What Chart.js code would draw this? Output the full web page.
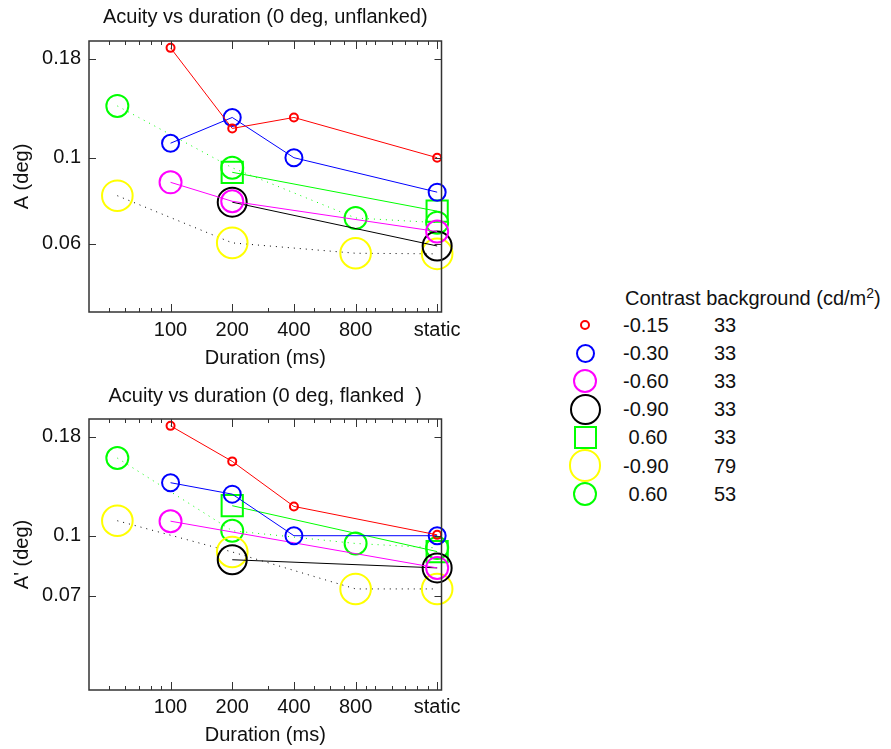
<!DOCTYPE html>
<html>
<head>
<meta charset="utf-8">
<script src="https://cdn.jsdelivr.net/npm/chart.js@4.4.1/dist/chart.umd.min.js"></script>
<style>
  body { margin: 0; background: #fff; font-family: "Liberation Sans", Arial, sans-serif; color: #111; }
  #wrap { position: relative; width: 891px; height: 749px; }
  #topChart { position: absolute; left: 0; top: 0; }
  #botChart { position: absolute; left: 0; top: 370px; }
  #legend { position: absolute; left: 0; top: 0; font-size: 20px; }
  .lg-title { position: absolute; left: 625px; top: 284px; line-height: 28px; white-space: nowrap; }
  .lg-title sup { font-size: 14px; vertical-align: 7px; line-height: 0; }
  .lg-text { position: absolute; line-height: 28px; height: 28px; white-space: pre; }
  .lg-mark { position: absolute; box-sizing: border-box; border-style: solid; border-width: 2px; }
</style>
</head>
<body>
<div id="wrap">
  <canvas id="topChart" width="460" height="370"></canvas>
  <canvas id="botChart" width="460" height="379"></canvas>
  <div id="legend"></div>
</div>
<script>
// durations in ms; 2000 stands for "static"
const durations = [55, 100, 200, 400, 800, 2000];
const xTickValues = [50, 60, 70, 80, 90, 100, 200, 300, 400, 500, 600, 700, 800, 900, 1000, 1200, 1400, 1600, 1800, 2000];
const xMajor = [100, 200, 400, 800, 2000];
const xTickLabels = { 100: '100', 200: '200', 400: '400', 800: '800', 2000: 'static' };

// legend entries: contrast and background (cd/m2)
const contrasts = ['-0.15', '-0.30', '-0.60', '-0.90', ' 0.60', '-0.90', ' 0.60'];
const backgrounds = ['33', '33', '33', '33', '33', '79', '53'];

// unflanked acuity A (deg), one array per series, aligned with durations
const topRed     = [null, 0.192, 0.119, 0.127, null, 0.100];
const topBlue    = [null, 0.109, 0.127, 0.100, null, 0.0815];
const topMagenta = [null, 0.0864, 0.0772, null, null, 0.0645];
const topBlack   = [null, null, 0.0768, null, null, 0.0592];
const topGreenSq = [null, null, 0.0917, null, null, 0.0728];
const topYellow  = [0.0798, null, 0.0603, null, 0.0567, 0.0565];
const topGreenCi = [0.136, null, 0.0942, null, 0.0699, 0.0680];

// flanked acuity A' (deg)
const botRed     = [null, 0.192, 0.1555, 0.119, null, 0.1005];
const botBlue    = [null, 0.137, 0.128, 0.100, null, 0.100];
const botMagenta = [null, 0.109, null, null, null, 0.0826];
const botBlack   = [null, null, 0.0867, null, null, 0.0826];
const botGreenSq = [null, null, 0.1195, null, null, 0.091];
const botYellow  = [0.1093, null, 0.0908, null, 0.0729, 0.0729];
const botGreenCi = [0.1586, null, 0.103, null, 0.0955, 0.093];

const topTicksY = [0.06, 0.1, 0.18];
const botTicksY = [0.07, 0.1, 0.18];

// styles per series
const markColors = ['#ff0000', '#0000ff', '#ff00ff', '#000000', '#00ff00', '#ffff00', '#00ff00'];
const lineColors = ['#ff0000', '#0000ff', '#ff00ff', '#000000', '#00ff00', '#000000', '#00ff00'];
const lineDashes = [[], [], [], [], [], [1, 5], [1, 5]];
const markShapes = ['circle', 'circle', 'circle', 'circle', 'rect', 'circle', 'circle'];
const markRadius = [4, 8.5, 11, 14.5, 15, 15.3, 11];

const FONT = { family: '"Liberation Sans", Arial, sans-serif', size: 20, weight: 'normal' };
Chart.defaults.font.family = FONT.family;
Chart.defaults.color = '#111';

function buildSets(seriesList) {
  return seriesList.map((vals, i) => ({
    label: contrasts[i] + ' ' + backgrounds[i],
    data: durations.map((d, j) => ({ x: d, y: vals[j] })).filter(p => p.y !== null),
    borderColor: lineColors[i],
    borderWidth: 1,
    borderDash: lineDashes[i],
    pointStyle: markShapes[i],
    pointRadius: markRadius[i],
    pointHoverRadius: markRadius[i],
    pointBorderColor: markColors[i],
    pointBorderWidth: 2,
    pointBackgroundColor: 'rgba(0,0,0,0)',
    tension: 0,
    fill: false,
    clip: false
  }));
}

// inward ticks + box, like the original plot frame
const frameTicks = {
  id: 'frameTicks',
  afterDatasetsDraw(chart) {
    const { ctx, chartArea: a, scales: { x, y } } = chart;
    ctx.save();
    ctx.strokeStyle = '#333';
    ctx.lineWidth = 1;
    ctx.setLineDash([]);
    ctx.beginPath();
    x.ticks.forEach(t => {
      const px = Math.round(x.getPixelForValue(t.value)) + 0.5;
      const len = xMajor.includes(t.value) ? 8 : 4;
      ctx.moveTo(px, a.bottom); ctx.lineTo(px, a.bottom - len);
      ctx.moveTo(px, a.top); ctx.lineTo(px, a.top + len);
    });
    y.ticks.forEach(t => {
      const py = Math.round(y.getPixelForValue(t.value)) + 0.5;
      ctx.moveTo(a.left, py); ctx.lineTo(a.left + 7, py);
      ctx.moveTo(a.right, py); ctx.lineTo(a.right - 7, py);
    });
    ctx.stroke();
    ctx.lineWidth = 1.5;
    ctx.strokeRect(a.left, a.top, a.right - a.left, a.bottom - a.top);
    ctx.restore();
  }
};

function makeChart(id, title, titlePad, yTitle, yTicks, seriesList, xHeight, xLabelPad, xTitlePad) {
  return new Chart(document.getElementById(id), {
    type: 'line',
    data: { datasets: buildSets(seriesList) },
    plugins: [frameTicks],
    options: {
      responsive: false,
      animation: false,
      events: [],
      layout: { padding: { left: 0, right: 18.5, top: 0, bottom: 0 } },
      plugins: {
        legend: { display: false },
        tooltip: { enabled: false },
        title: { display: true, text: title, fullSize: false, font: FONT, color: '#111', padding: titlePad }
      },
      scales: {
        x: {
          type: 'logarithmic',
          min: 40,
          max: 2100,
          grid: { display: false, drawTicks: false },
          border: { display: false },
          afterBuildTicks: s => { s.ticks = xTickValues.map(v => ({ value: v })); },
          afterFit: s => { s.height = xHeight; s.paddingLeft = 0; s.paddingRight = 0; },
          ticks: {
            autoSkip: false, maxRotation: 0, padding: xLabelPad, font: FONT, color: '#111',
            callback: v => xTickLabels[v] || ''
          },
          title: { display: true, text: 'Duration (ms)', font: FONT, color: '#111', padding: { top: 0, bottom: xTitlePad } }
        },
        y: {
          type: 'logarithmic',
          min: 0.04,
          max: 0.2,
          grid: { display: false, drawTicks: false },
          border: { display: false },
          afterBuildTicks: s => { s.ticks = yTicks.map(v => ({ value: v })); },
          afterFit: s => { s.width = 89; s.paddingTop = 0; s.paddingBottom = 0; },
          ticks: { autoSkip: false, padding: 8, font: FONT, color: '#111', callback: v => String(v) },
          title: { display: true, text: yTitle, font: FONT, color: '#111', padding: { top: 10, bottom: 0 } }
        }
      }
    }
  });
}

makeChart('topChart', 'Acuity vs duration (0 deg, unflanked)', { top: 5, bottom: 12 }, 'A (deg)', topTicksY,
  [topRed, topBlue, topMagenta, topBlack, topGreenSq, topYellow, topGreenCi], 58, 6, 0);
makeChart('botChart', 'Acuity vs duration (0 deg, flanked  )', { top: 14, bottom: 11 }, "A' (deg)", botTicksY,
  [botRed, botBlue, botMagenta, botBlack, botGreenSq, botYellow, botGreenCi], 59, 5, 2);

// legend (html text)
const legend = document.getElementById('legend');
const head = document.createElement('div');
head.className = 'lg-title';
head.innerHTML = 'Contrast background (cd/m<sup>2</sup>)';
legend.appendChild(head);
contrasts.forEach((c, i) => {
  const cy = 325 + i * 28.1;
  const outer = markShapes[i] === 'rect' ? Math.round(markRadius[i] * Math.SQRT2) + 2 : markRadius[i] * 2 + 2;
  const m = document.createElement('div');
  m.className = 'lg-mark';
  m.style.left = (585 - outer / 2) + 'px';
  m.style.top = (cy - outer / 2) + 'px';
  m.style.width = outer + 'px';
  m.style.height = outer + 'px';
  m.style.borderColor = markColors[i];
  m.style.borderRadius = markShapes[i] === 'rect' ? '0' : '50%';
  legend.appendChild(m);
  const t1 = document.createElement('div');
  t1.className = 'lg-text';
  t1.style.left = '623px';
  t1.style.top = (cy - 14) + 'px';
  t1.textContent = c;
  legend.appendChild(t1);
  const t2 = document.createElement('div');
  t2.className = 'lg-text';
  t2.style.left = '714px';
  t2.style.top = (cy - 14) + 'px';
  t2.textContent = backgrounds[i];
  legend.appendChild(t2);
});
</script>
</body>
</html>
